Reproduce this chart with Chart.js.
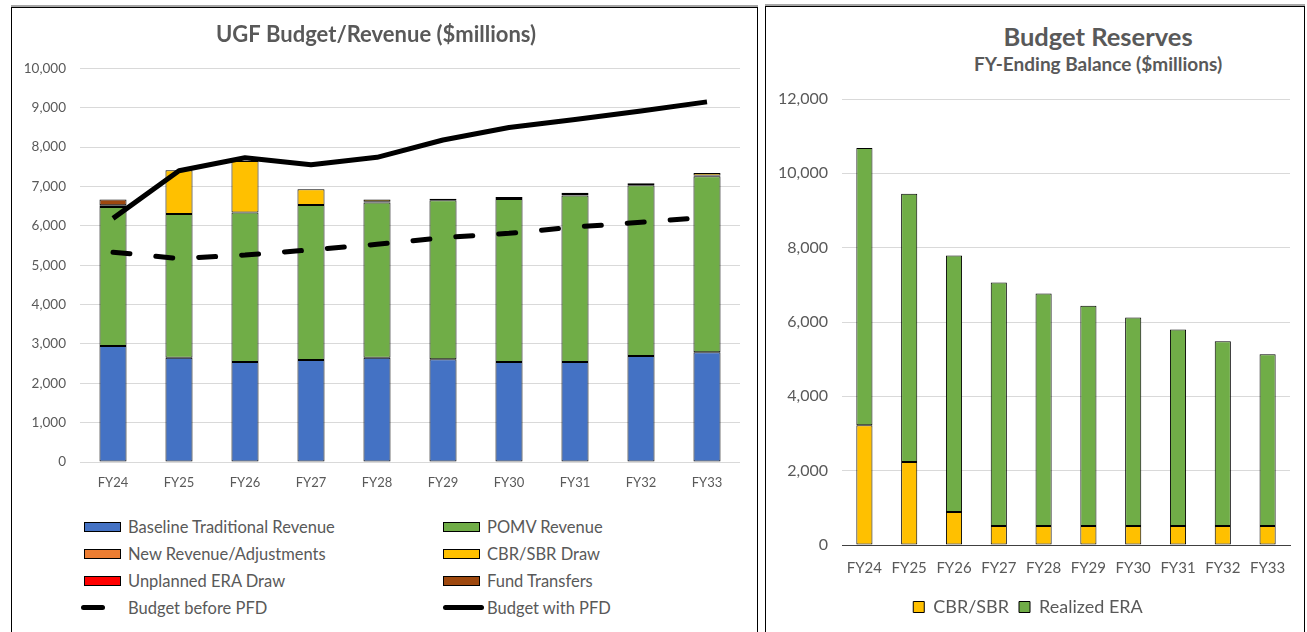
<!DOCTYPE html>
<html lang="en">
<head>
<meta charset="UTF-8">
<title>UGF Budget/Revenue and Budget Reserves</title>
<script src="https://cdn.jsdelivr.net/npm/chart.js@4.4.1/dist/chart.umd.min.js"></script>
<style>
  body {
    margin: 0;
    width: 1307px;
    height: 632px;
    overflow: hidden;
    background: #fff;
    font-family: Lato, sans-serif;
    position: relative;
  }
  .panel {
    position: absolute;
    border: 1px solid #000;
    box-shadow: 0 -2px 0 #a6a6a6;
    background: #fff;
  }
  #leftPanel { left: 11px; top: 7px; width: 745px; height: 640px; }
  #rightPanel { left: 765px; top: 6px; width: 538px; height: 640px; }
  canvas { position: absolute; left: 0; top: 0; }
  /* titles of the reserves chart */
  .rTitle {
    position: absolute;
    left: 0;
    width: 664px;
    text-align: center;
    color: #595959;
    font-weight: 700;
    white-space: nowrap;
  }
  #resTitle { top: 14px; font-size: 25.5px; line-height: 30px; }
  #resSub { top: 46px; font-size: 19px; line-height: 22px; }
  /* legend of the revenue chart */
  .lgItem {
    position: absolute;
    height: 20px;
    font-size: 16.5px;
    line-height: 20px;
    color: #595959;
    white-space: nowrap;
  }
  .lgMark { position: absolute; top: 5px; box-sizing: border-box; }
  .lgText { position: absolute; top: 0; }
</style>
</head>
<body>

<div class="panel" id="leftPanel">
  <canvas id="budgetChart" width="745" height="500"></canvas>
  <div id="budgetLegend"></div>
</div>

<div class="panel" id="rightPanel">
  <div class="rTitle" id="resTitle">Budget Reserves</div>
  <div class="rTitle" id="resSub">FY-Ending Balance ($millions)</div>
  <canvas id="reserveChart" width="538" height="619"></canvas>
</div>

<script>
// categorias (años fiscales)
const fiscalYears = ['FY24', 'FY25', 'FY26', 'FY27', 'FY28', 'FY29', 'FY30', 'FY31', 'FY32', 'FY33'];

// UGF Budget/Revenue ($millions) - barras apiladas
const baselineRevenue = [2950, 2650, 2540, 2590, 2650, 2610, 2540, 2540, 2690, 2790];
const pomvRevenue     = [3530, 3650, 3800, 3940, 3940, 4040, 4140, 4230, 4340, 4470];
const newRevenueAdj   = [40, 0, 0, 0, 20, 40, 50, 40, 50, 20];
const cbrSbrDraw      = [0, 1110, 1310, 400, 60, 0, 0, 30, 0, 60];
const unplannedEra    = [0, 0, 0, 0, 0, 0, 0, 0, 0, 0];
const fundTransfers   = [150, 0, 0, 0, 0, 0, 0, 0, 0, 0];

// lineas de presupuesto
const budgetBeforePfd = [5330, 5170, 5260, 5390, 5530, 5700, 5810, 5970, 6090, 6220];
const budgetWithPfd   = [6190, 7400, 7730, 7550, 7740, 8180, 8500, 8700, 8920, 9150];

// Budget Reserves - saldo al cierre del año
const reserveCbrSbr   = [3220, 2230, 890, 510, 510, 510, 510, 510, 510, 510];
const reserveEra      = [7460, 7220, 6900, 6550, 6260, 5930, 5610, 5290, 4970, 4620];

// ejes
const revenueAxis = { min: 0, max: 10000, step: 1000 };
const reserveAxis = { min: 0, max: 12000, step: 2000 };

const TEXT = '#595959';
const GRID = '#d9d9d9';
Chart.defaults.font.family = 'Lato, sans-serif';
Chart.defaults.color = TEXT;

const barSeries = [
  { label: 'Baseline Traditional Revenue', color: '#4472C4', data: baselineRevenue },
  { label: 'POMV Revenue', color: '#70AD47', data: pomvRevenue },
  { label: 'New Revenue/Adjustments', color: '#ED7D31', data: newRevenueAdj },
  { label: 'CBR/SBR Draw', color: '#FFC000', data: cbrSbrDraw },
  { label: 'Unplanned ERA Draw', color: '#FF0000', data: unplannedEra },
  { label: 'Fund Transfers', color: '#9E480E', data: fundTransfers }
];
const lineSeries = [
  { label: 'Budget before PFD', data: budgetBeforePfd, dash: [17, 26] },
  { label: 'Budget with PFD', data: budgetWithPfd, dash: [] }
];

const budgetDatasets = [];
barSeries.forEach(s => {
  budgetDatasets.push({
    type: 'bar',
    label: s.label,
    data: s.data,
    backgroundColor: s.color,
    borderColor: '#000',
    borderWidth: 1,
    borderSkipped: false,
    stack: 'revenue',
    order: 2,
    categoryPercentage: 1,
    barPercentage: 0.41
  });
});
lineSeries.forEach((s, i) => {
  budgetDatasets.push({
    type: 'line',
    label: s.label,
    data: s.data,
    borderColor: '#000',
    borderWidth: 5,
    borderDash: s.dash,
    borderCapStyle: s.dash.length ? 'round' : 'butt',
    borderJoinStyle: 'round',
    pointRadius: 0,
    fill: false,
    tension: 0,
    stack: 'line' + i,
    order: 1
  });
});

new Chart(document.getElementById('budgetChart'), {
  type: 'bar',
  data: { labels: fiscalYears, datasets: budgetDatasets },
  options: {
    responsive: false,
    animation: false,
    layout: { padding: { left: 0, right: 17, top: 0, bottom: 0 } },
    plugins: {
      legend: { display: false },
      tooltip: { enabled: false },
      title: {
        display: true,
        text: 'UGF Budget/Revenue ($millions)',
        color: TEXT,
        font: { size: 22, weight: 'bold' },
        padding: { top: 14, bottom: 20 }
      }
    },
    scales: {
      x: {
        stacked: true,
        grid: { display: false, drawTicks: false },
        border: { display: false },
        ticks: { color: TEXT, font: { size: 13 }, padding: 13 },
        afterFit: scale => { scale.height = 46; }
      },
      y: {
        stacked: true,
        min: revenueAxis.min,
        max: revenueAxis.max,
        ticks: { stepSize: revenueAxis.step, color: TEXT, font: { size: 13.5 }, padding: 14 },
        grid: { color: GRID, lineWidth: 1, drawTicks: false },
        border: { display: false },
        afterFit: scale => { scale.width = 68; }
      }
    }
  }
});

// leyenda en dos columnas (como en Excel)
const legendBox = document.getElementById('budgetLegend');
const legendEntries = barSeries.map(s => ({ label: s.label, color: s.color, kind: 'box' }))
  .concat(lineSeries.map(s => ({ label: s.label, kind: s.dash.length ? 'dash' : 'line' })));
legendEntries.forEach((e, i) => {
  const col = i % 2, row = Math.floor(i / 2);
  const item = document.createElement('div');
  item.className = 'lgItem';
  item.style.left = (col ? 431 : 72) + 'px';
  item.style.top = (509 + row * 27) + 'px';
  const mark = document.createElement('div');
  mark.className = 'lgMark';
  if (e.kind === 'box') {
    mark.style.cssText = `left:0;width:37px;height:10px;background:${e.color};border:1px solid #000;`;
  } else if (e.kind === 'dash') {
    mark.style.cssText = 'left:-3px;top:7px;width:24px;height:5px;background:#000;border-radius:3px;';
  } else {
    mark.style.cssText = 'left:0;top:7px;width:41px;height:5px;background:#000;border-radius:3px;';
  }
  const txt = document.createElement('span');
  txt.className = 'lgText';
  txt.style.left = '44px';
  txt.textContent = e.label;
  item.appendChild(mark);
  item.appendChild(txt);
  legendBox.appendChild(item);
});

new Chart(document.getElementById('reserveChart'), {
  type: 'bar',
  data: {
    labels: fiscalYears,
    datasets: [
      { label: 'CBR/SBR', data: reserveCbrSbr, backgroundColor: '#FFC000' },
      { label: 'Realized ERA', data: reserveEra, backgroundColor: '#70AD47' }
    ].map(d => Object.assign(d, {
      borderColor: '#000',
      borderWidth: 1,
      borderSkipped: false,
      categoryPercentage: 1,
      barPercentage: 0.36
    }))
  },
  options: {
    responsive: false,
    animation: false,
    layout: { padding: { left: 0, right: 14, top: 92, bottom: 0 } },
    plugins: {
      tooltip: { enabled: false },
      legend: {
        position: 'bottom',
        labels: {
          color: TEXT,
          font: { size: 18 },
          boxWidth: 11,
          boxHeight: 11,
          padding: 10
        }
      }
    },
    scales: {
      x: {
        stacked: true,
        grid: { display: false, drawTicks: false },
        border: { display: true, color: '#404040', width: 1 },
        ticks: { color: TEXT, font: { size: 15 }, padding: 14 },
        afterFit: scale => { scale.height = 43; }
      },
      y: {
        stacked: true,
        min: reserveAxis.min,
        max: reserveAxis.max,
        ticks: { stepSize: reserveAxis.step, color: TEXT, font: { size: 16 }, padding: 14 },
        grid: { color: GRID, drawTicks: false },
        border: { display: false },
        afterFit: scale => { scale.width = 76; }
      }
    }
  }
});
</script>
</body>
</html>
